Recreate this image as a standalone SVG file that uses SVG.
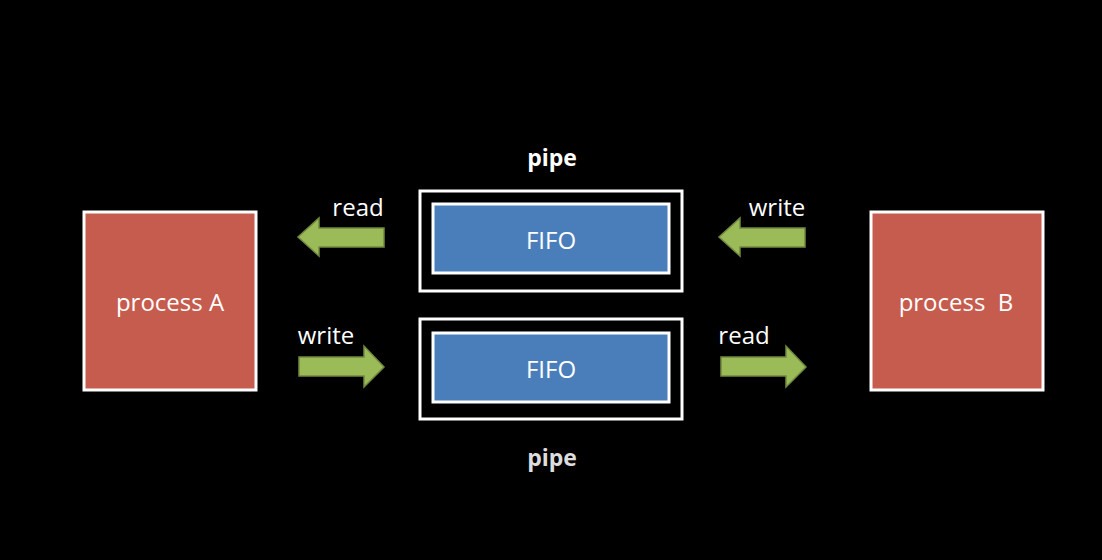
<svg xmlns="http://www.w3.org/2000/svg" width="1102" height="560" viewBox="0 0 1102 560">
<style>
.proc{fill:#C65C4E;stroke:#fff;stroke-width:3}
.pipe{fill:#000;stroke:#fff;stroke-width:3}
.fifo{fill:#4A7EBB;stroke:#fff;stroke-width:3}
.arr{fill:#9BBB59;stroke:#71893F;stroke-width:1.5}
text{font-family:"Open Sans","Noto Sans",sans-serif;fill:#fff;text-anchor:middle}
.lbl{font-size:24px}
.pl{font-size:23px;font-weight:bold}
</style>
<rect width="1102" height="560" fill="#000"/>
<g id="processA"><rect class="proc" x="84" y="212" width="172" height="178"/><text class="lbl" x="170" y="311">process A</text></g>
<g id="processB"><rect class="proc" x="871" y="212" width="172" height="178"/><text class="lbl" x="956" y="311">process&#160;&#160;B</text></g>
<g id="pipe1"><rect class="pipe" x="420" y="191" width="262" height="100"/><rect class="fifo" x="433" y="204" width="236" height="69"/><text class="lbl" x="551" y="249">FIFO</text><text class="pl" x="552" y="166">pipe</text></g>
<g id="pipe2"><rect class="pipe" x="420" y="319" width="262" height="100"/><rect class="fifo" x="433" y="333" width="236" height="69"/><text class="lbl" x="551" y="378">FIFO</text><text class="pl" x="552" y="466" style="fill:#ddd">pipe</text></g>
<g id="connectors">
<polygon class="arr" points="384,228 319,228 319,218 298,237 319,256 319,247 384,247"/>
<polygon class="arr" points="805,228 740,228 740,218 719,237 740,256 740,247 805,247"/>
<polygon class="arr" points="299,357 364,357 364,346 384,367 364,387 364,376 299,376"/>
<polygon class="arr" points="721,357 786,357 786,346 806,367 786,387 786,376 721,376"/>
<text class="lbl" x="358" y="216">read</text>
<text class="lbl" x="777" y="216">write</text>
<text class="lbl" x="326" y="344">write</text>
<text class="lbl" x="744" y="344">read</text>
</g>
</svg>
